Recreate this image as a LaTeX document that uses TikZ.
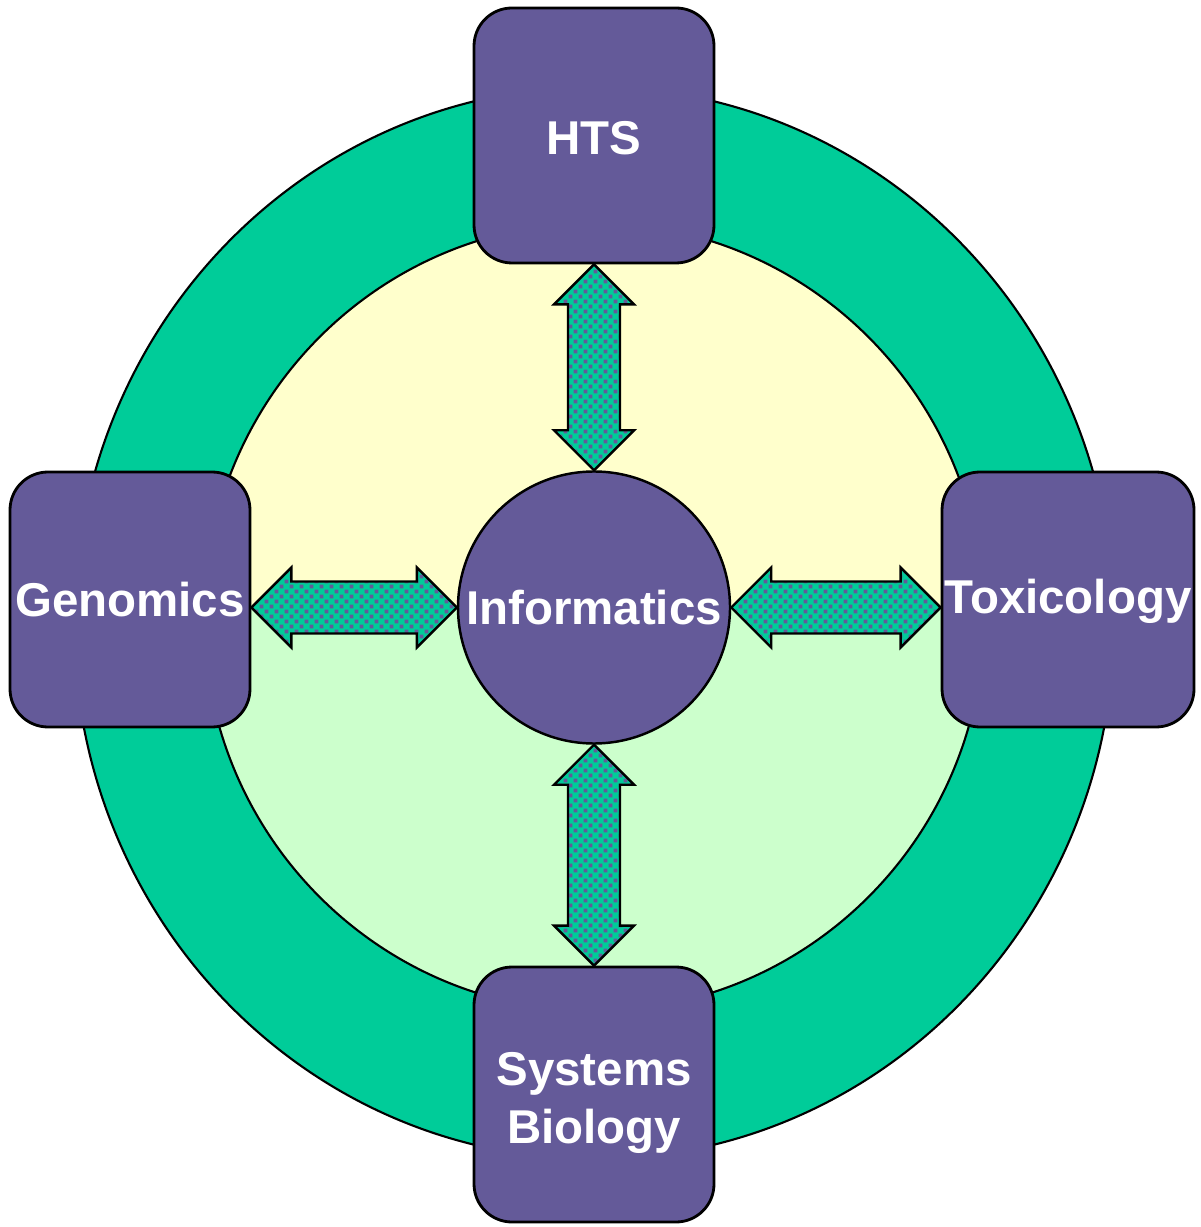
\documentclass[tikz,border=0pt]{standalone}
\usepackage{fontspec}
\setmainfont{Liberation Sans}
\usepackage{xcolor}
\usepackage{tikz}
\usetikzlibrary{calc,patterns.meta}

\definecolor{boxpurple}{RGB}{100,90,153}
\definecolor{ringgreen}{RGB}{0,204,153}
\definecolor{paleyellow}{RGB}{255,255,204}
\definecolor{palegreen}{RGB}{204,255,204}

\tikzdeclarepattern{
  name=dotcheck,
  type=uncolored,
  bottom left={(0pt,0pt)},
  top right={(2.84pt,2.84pt)},
  tile size={(2.84pt,2.84pt)},
  code={
    \fill (0.15pt,0.15pt) rectangle (1.25pt,1.25pt);
    \fill (1.57pt,1.57pt) rectangle (2.67pt,2.67pt);
  }
}

\begin{document}
\begin{tikzpicture}[x=0.1mm, y=-0.1mm,
    box/.style={draw=black, line width=0.8pt, fill=boxpurple, rounded corners=0.38cm,
        minimum width=2.4cm, minimum height=2.55cm, inner sep=0pt,
        text=white, font=\fontsize{13.5}{16.5}\selectfont\bfseries, align=center},
    hub/.style={draw=black, line width=0.7pt, fill=boxpurple, circle,
        minimum size=2.72cm, inner sep=0pt,
        text=white, font=\fontsize{13.5}{16.5}\selectfont\bfseries},
    fatarrow/.style={draw=black, line width=0.7pt, line join=miter,
        pattern=dotcheck, pattern color=boxpurple, preaction={fill=ringgreen}}]
    \useasboundingbox (0,0) rectangle (1200,1227);

    % Outer ring
    \draw[line width=0.6pt, fill=ringgreen] (594,623) ellipse [x radius=520, y radius=536];

    % Inner disc, yellow on top and green below
    \begin{scope}
        \clip (594,617) ellipse [x radius=390, y radius=394];
        \fill[paleyellow] (150,200) rectangle (1050,608);
        \fill[palegreen] (150,608) rectangle (1050,1050);
    \end{scope}
    \draw[line width=0.6pt] (594,617) ellipse [x radius=390, y radius=394];

    % Boxes
    \node[box] (hts) at (594,135.5) {\rule{0pt}{11pt}HTS};
    \node[box] (genomics) at (130,599.5) {Genomics};
    \node[box, minimum width=2.52cm] (tox) at (1068,599.5) {\rule{0pt}{11pt}Toxicology};
    \node[box] (sb) at (594,1094.5) {\rule{0pt}{14pt}Systems\\Biology};
    \node[hub] (info) at (594,607.5) {Informatics};

    % Arrow ends on the side boxes
    \coordinate (gtip) at (genomics.east |- info.west);
    \coordinate (ttip) at (tox.west |- info.east);

    % Double arrows
    \foreach \src/\dst in {hts.south/info.north, gtip/info.west,
                           info.east/ttip, info.south/sb.north}
        \draw[fatarrow] (\src)
            -- ($(\src)!0.4cm!(\dst)!0.4cm!-90:(\dst)$)
            -- ($(\src)!0.4cm!(\dst)!0.26cm!-90:(\dst)$)
            -- ($(\dst)!0.4cm!(\src)!0.26cm!90:(\src)$)
            -- ($(\dst)!0.4cm!(\src)!0.4cm!90:(\src)$)
            -- (\dst)
            -- ($(\dst)!0.4cm!(\src)!0.4cm!-90:(\src)$)
            -- ($(\dst)!0.4cm!(\src)!0.26cm!-90:(\src)$)
            -- ($(\src)!0.4cm!(\dst)!0.26cm!90:(\dst)$)
            -- ($(\src)!0.4cm!(\dst)!0.4cm!90:(\dst)$)
            -- cycle;
\end{tikzpicture}
\end{document}
